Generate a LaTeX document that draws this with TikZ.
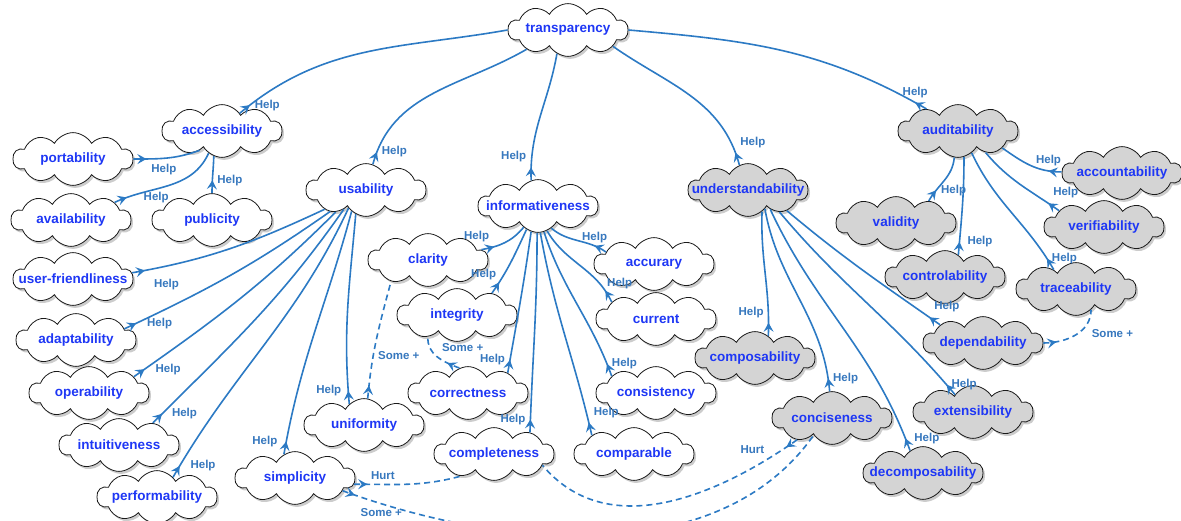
\documentclass[tikz,border=0pt]{standalone}
\usepackage{fontspec}
\setmainfont{Liberation Sans}
\usetikzlibrary{shapes.symbols,shadows,arrows.meta,decorations.markings}
\definecolor{linkblue}{RGB}{44,122,196}
\definecolor{textblue}{RGB}{30,55,245}
\definecolor{lblblue}{RGB}{55,120,190}
\definecolor{softgray}{RGB}{212,212,212}
\newcommand{\sg}[1]{\makebox[70pt]{#1}}
\tikzset{
  soft/.style={cloud, cloud puffs=10, cloud puff arc=120, aspect=2.8, minimum width=120pt, minimum height=44pt,
    inner sep=1pt, draw=black!90, line width=.8pt, fill=white, text=textblue,
    font=\bfseries\fontsize{13.5}{15}\selectfont,
    drop shadow={shadow xshift=2pt, shadow yshift=-2.5pt, opacity=.4}},
  hard/.style={soft, fill=softgray},
  lbl/.style={text=lblblue, font=\bfseries\fontsize{11.5}{12}\selectfont, inner sep=1pt, outer sep=4pt},
  softtip/.tip={Stealth[length=9pt,width=10pt,inset=3.5pt]},
  link/.style={draw=linkblue, line width=1.6pt},
  help/.style={link, postaction=decorate, decoration={markings,
    mark=at position 13pt with {\arrow[linkblue]{softtip}\node[lbl, anchor=#1] {Help};}}},
  some/.style={link, dash pattern=on 6pt off 4pt, postaction=decorate, decoration={markings,
    mark=at position 13pt with {\arrow[linkblue]{softtip}}}},
}
\begin{document}
\begin{tikzpicture}[x=1pt,y=1pt]
  \useasboundingbox[fill=white] (0,0) rectangle (1181,520);
  \node[soft] (transparency) at (568,490) {\sg{transparency}};
  \node[soft] (accessibility) at (222,389) {\sg{accessibility}};
  \node[soft] (portability) at (73,361) {\sg{portability}};
  \node[soft] (availability) at (71,300) {\sg{availability}};
  \node[soft] (publicity) at (212,300) {\sg{publicity}};
  \node[soft] (usability) at (366,330) {\sg{usability}};
  \node[soft] (informativeness) at (538,314) {\sg{informativeness}};
  \node[hard] (understandability) at (748,330) {\sg{understandability}};
  \node[hard] (auditability) at (958,389) {\sg{auditability}};
  \node[hard] (accountability) at (1122,347) {\sg{accountability}};
  \node[hard] (validity) at (896,297) {\sg{validity}};
  \node[hard] (verifiability) at (1104,293) {\sg{verifiability}};
  \node[hard] (controlability) at (945,243) {\sg{controlability}};
  \node[hard] (traceability) at (1076,231) {\sg{traceability}};
  \node[hard] (dependability) at (983,177) {\sg{dependability}};
  \node[hard] (extensibility) at (973,108) {\sg{extensibility}};
  \node[hard] (decomposability) at (923,47) {\sg{decomposability}};
  \node[hard] (conciseness) at (832,102) {\sg{conciseness}};
  \node[hard] (composability) at (755,162) {\sg{composability}};
  \node[soft] (userfriendliness) at (73,241) {\sg{user-friendliness}};
  \node[soft] (adaptability) at (76,180) {\sg{adaptability}};
  \node[soft] (operability) at (89,127) {\sg{operability}};
  \node[soft] (intuitiveness) at (119,75) {\sg{intuitiveness}};
  \node[soft] (performability) at (157,23) {\sg{performability}};
  \node[soft] (simplicity) at (295,42) {\sg{simplicity}};
  \node[soft] (uniformity) at (364,95) {\sg{uniformity}};
  \node[soft] (clarity) at (428,260) {\sg{clarity}};
  \node[soft] (integrity) at (457,205) {\sg{integrity}};
  \node[soft] (correctness) at (468,127) {\sg{correctness}};
  \node[soft] (completeness) at (494,66) {\sg{completeness}};
  \node[soft] (accurary) at (654,256) {\sg{accurary}};
  \node[soft] (current) at (656,201) {\sg{current}};
  \node[soft] (consistency) at (656,127) {\sg{consistency}};
  \node[soft] (comparable) at (634,66) {\sg{comparable}};

  \draw[help=west] (accessibility.45) to[out=40,in=190] (transparency.180);
  \draw[help=west] (usability.75) to[out=75,in=210] (transparency.-155);
  \draw[help=south east] (informativeness.105) to[out=92,in=-100] (transparency.-115);
  \draw[help=south west] (understandability.109) to[out=105,in=-35] (transparency.-20);
  \draw[help=south] (auditability.145) to[out=150,in=-5] (transparency.0);

  \draw[help=north west] (portability.0) to[out=0,in=200] (accessibility.-139);
  \draw[help={west,outer sep=16pt}] (availability.22) to[out=25,in=-115] (accessibility.-121);
  \draw[help=west] (publicity.90) to[out=90,in=-92] (accessibility.-108);

  \draw[help={north west,outer sep=8pt}] (userfriendliness.6) to[out=10,in=205] (usability.-155);
  \draw[help={west,outer sep=10pt}] (adaptability.13) to[out=25,in=215] (usability.-149);
  \draw[help={west,outer sep=10pt}] (operability.20) to[out=35,in=225] (usability.-144);
  \draw[help={west,outer sep=9pt}] (intuitiveness.33) to[out=45,in=235] (usability.-139);
  \draw[help={west,outer sep=10pt}] (performability.51) to[out=60,in=245] (usability.-134);
  \draw[help={east,outer sep=8pt}] (simplicity.115) to[out=80,in=255] (usability.-124);
  \draw[help={east,outer sep=6pt}] (uniformity.125) to[out=95,in=265] (usability.-113);

  \draw[help=south east] (clarity.11) to[out=10,in=230] (informativeness.-124);
  \draw[help={south east,outer sep=2pt}] (integrity.32) to[out=55,in=245] (informativeness.-116);
  \draw[help=east] (correctness.27) to[out=80,in=262] (informativeness.-105);
  \draw[help=east] (completeness.31) to[out=88,in=270] (informativeness.-92);
  \draw[help={south,outer sep=2pt}] (accurary.166) to[out=145,in=-40] (informativeness.-59);
  \draw[help={south west,outer sep=1pt}] (current.159) to[out=115,in=-60] (informativeness.-70);
  \draw[help=west] (consistency.159) to[out=110,in=-72] (informativeness.-77);
  \draw[help=south west] (comparable.156) to[out=103,in=-80] (informativeness.-85);

  \draw[help=south east] (composability.59) to[out=88,in=-92] (understandability.-57);
  \draw[help=west] (conciseness.95) to[out=95,in=-80] (understandability.-48);
  \draw[help={west,outer sep=8pt}] (decomposability.120) to[out=110,in=-65] (understandability.-41);
  \draw[help=west] (extensibility.136) to[out=130,in=-50] (understandability.-35);
  \draw[help=south west] (dependability.157) to[out=145,in=-40] (understandability.-28);

  \draw[help=south] (accountability.179) to[out=180,in=-35] (auditability.-21);
  \draw[help=west] (validity.34) to[out=60,in=-95] (auditability.-98);
  \draw[help={west,outer sep=7pt}] (controlability.59) to[out=85,in=-90] (auditability.-77);
  \draw[help=south west] (verifiability.160) to[out=145,in=-50] (auditability.-38);
  \draw[help=west] (traceability.139) to[out=120,in=-65] (auditability.-58);

  \draw[some] (dependability.0) to[out=0,in=-90] node[lbl,pos=.75,anchor=north west] {Some +} (traceability.-54);
  \draw[some] (uniformity.82) to[out=85,in=-105] node[lbl,pos=.35,anchor=west] {Some +} (clarity.-150);
  \draw[some] (correctness.109) to[out=160,in=-95] node[lbl,pos=.5,anchor=south west] {Some +} (integrity.-143);
  \draw[some] (simplicity.-6) to[out=0,in=195] node[lbl,pos=.25,anchor=south] {Hurt} (completeness.-146);
  \draw[some] (conciseness.-148) to[out=215,in=-50] node[lbl,pos=.11,anchor=south east] {Hurt} (completeness.-13);
  \draw[some] (simplicity.-15) to[out=-20,in=235,looseness=.9] node[lbl,pos=.08,anchor=north] {Some +} (conciseness.-137);
\end{tikzpicture}
\end{document}
